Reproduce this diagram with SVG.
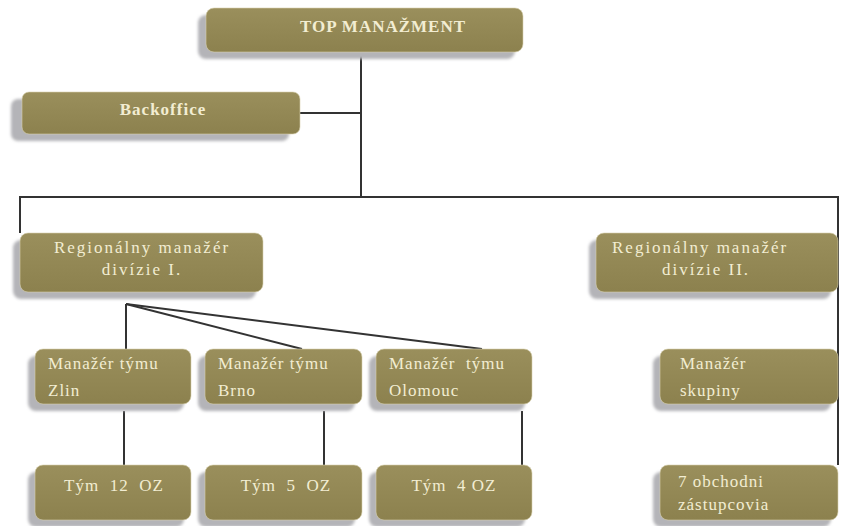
<svg xmlns="http://www.w3.org/2000/svg" width="843" height="526" viewBox="0 0 843 526">
<defs>
<filter id="blur" x="-10%" y="-30%" width="120%" height="160%"><feGaussianBlur stdDeviation="1.5"/></filter>
<linearGradient id="fillg" x1="0" y1="0" x2="0" y2="1">
<stop offset="0" stop-color="#9a8f5c"/>
<stop offset="1" stop-color="#8c814e"/>
</linearGradient>
</defs>
<style>
.sh{fill:#b4b4b8;filter:url(#blur)}
.bx{fill:url(#fillg);stroke:#d8d2b0;stroke-width:0.6}
.t{font-family:"Liberation Serif","Times New Roman","DejaVu Serif",serif;font-size:17px;letter-spacing:1px;fill:#f2edd2}
.r{letter-spacing:2px}
.b{font-weight:bold;font-size:17px;letter-spacing:1px}
.c{text-anchor:middle}
.ln{stroke:#333;stroke-width:2;fill:none}
</style>
<rect width="843" height="526" fill="#ffffff"/>
<g id="connectors">
<line class="ln" x1="361" y1="52" x2="361" y2="197"/>
<line class="ln" x1="300" y1="113" x2="361" y2="113"/>
<polyline class="ln" points="20,233 20,197 838,197 838,465"/>
<line class="ln" x1="126" y1="304" x2="126" y2="349"/>
<line class="ln" x1="126" y1="304" x2="302" y2="349"/>
<line class="ln" x1="126" y1="304" x2="482" y2="349"/>
<line class="ln" x1="124" y1="411" x2="124" y2="465"/>
<line class="ln" x1="324" y1="411" x2="324" y2="465"/>
<line class="ln" x1="522" y1="411" x2="522" y2="465" stroke="#777"/>
</g>
<g id="top">
<rect class="sh" x="198" y="15" width="317" height="44" rx="8"/>
<rect class="bx" x="206" y="8" width="317" height="44" rx="8"/>
<text class="t b c" x="383" y="32">TOP MANAŽMENT</text>
</g>
<g id="backoffice">
<rect class="sh" x="11" y="99" width="278" height="42" rx="7"/>
<rect class="bx" x="22" y="92" width="278" height="42" rx="7"/>
<text class="t b c" x="163" y="115">Backoffice</text>
</g>
<g id="reg1">
<rect class="sh" x="13" y="240" width="243" height="59" rx="8"/>
<rect class="bx" x="20" y="233" width="243" height="59" rx="8"/>
<text class="t r c" x="142" y="253">Regionálny manažér</text>
<text class="t r c" x="142" y="275">divízie I.</text>
</g>
<g id="reg2">
<rect class="sh" x="589" y="240" width="242" height="59" rx="8"/>
<rect class="bx" x="596" y="233" width="242" height="59" rx="8"/>
<text class="t r" x="612" y="253">Regionálny manažér</text>
<text class="t r" x="662" y="275">divízie II.</text>
</g>
<g id="zlin">
<rect class="sh" x="28" y="356" width="156" height="55" rx="8"/>
<rect class="bx" x="35" y="349" width="156" height="55" rx="8"/>
<text class="t" x="48" y="369">Manažér týmu</text>
<text class="t" x="48" y="396">Zlin</text>
</g>
<g id="brno">
<rect class="sh" x="198" y="356" width="157" height="55" rx="8"/>
<rect class="bx" x="205" y="349" width="157" height="55" rx="8"/>
<text class="t" x="218" y="369">Manažér týmu</text>
<text class="t" x="218" y="396">Brno</text>
</g>
<g id="olomouc">
<rect class="sh" x="369" y="356" width="156" height="55" rx="8"/>
<rect class="bx" x="376" y="349" width="156" height="55" rx="8"/>
<text class="t" x="389" y="369" xml:space="preserve">Manažér  týmu</text>
<text class="t" x="389" y="396">Olomouc</text>
</g>
<g id="skupina">
<rect class="sh" x="653" y="356" width="178" height="55" rx="8"/>
<rect class="bx" x="660" y="349" width="178" height="55" rx="8"/>
<text class="t" x="680" y="369">Manažér</text>
<text class="t" x="680" y="396">skupiny</text>
</g>
<g id="tym12">
<rect class="sh" x="28" y="472" width="156" height="55" rx="8"/>
<rect class="bx" x="35" y="465" width="156" height="55" rx="8"/>
<text class="t c" x="114" y="491" xml:space="preserve">Tým  12  OZ</text>
</g>
<g id="tym5">
<rect class="sh" x="198" y="472" width="157" height="55" rx="8"/>
<rect class="bx" x="205" y="465" width="157" height="55" rx="8"/>
<text class="t c" x="286" y="491" xml:space="preserve">Tým  5  OZ</text>
</g>
<g id="tym4">
<rect class="sh" x="369" y="472" width="156" height="55" rx="8"/>
<rect class="bx" x="376" y="465" width="156" height="55" rx="8"/>
<text class="t c" x="454" y="491" xml:space="preserve">Tým  4 OZ</text>
</g>
<g id="zastupcovia">
<rect class="sh" x="653" y="472" width="178" height="55" rx="8"/>
<rect class="bx" x="660" y="465" width="178" height="55" rx="8"/>
<text class="t" x="678" y="487">7 obchodni</text>
<text class="t" x="678" y="510">zástupcovia</text>
</g>
</svg>
